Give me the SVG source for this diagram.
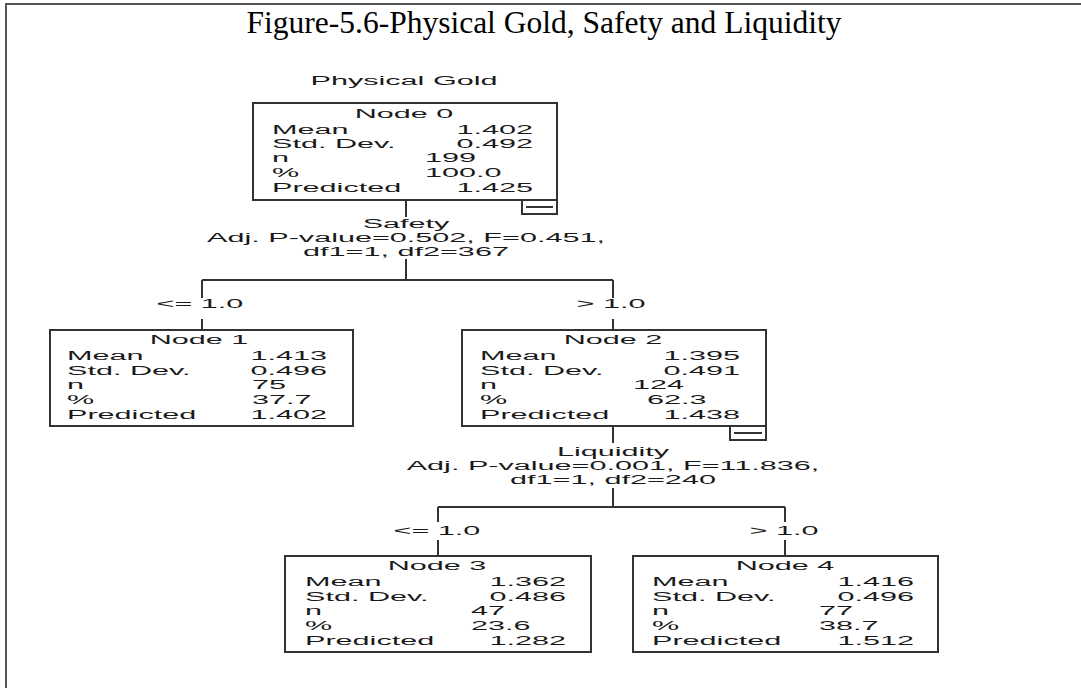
<svg xmlns="http://www.w3.org/2000/svg" width="1081" height="688" viewBox="0 0 1081 688">
<style>
.frame{fill:none;stroke:#555;stroke-width:2}
.box{fill:#fff;stroke:#333;stroke-width:2}
.ln{fill:none;stroke:#333;stroke-width:2}
.t{font-family:"Liberation Sans",Arial,sans-serif;font-size:12px;fill:#1a1a1a}
.m{text-anchor:middle}
.e{text-anchor:end}
.title{font-family:"Liberation Serif","Times New Roman",serif;font-size:31.5px;fill:#000;text-anchor:middle}
</style>
<rect width="1081" height="688" fill="#fff"/>
<path class="frame" d="M6,688 V4 H1081"/>
<text class="title" x="544" y="33">Figure-5.6-Physical Gold, Safety and Liquidity</text>
<text class="t m" transform="translate(404,85) scale(2.55,1)">Physical Gold</text>

<g id="connectors">
<path class="ln" d="M406,200 V217 M406,259 V280 M202,280 H613 M202,280 V298 M202,319 V330 M613,280 V298 M613,319 V330 M613,426 V443 M613,488 V507 M438,507 H785 M438,507 V522 M438,540 V556 M785,507 V522 M785,540 V556"/>
<text class="t m" transform="translate(406,228) scale(2.55,1)">Safety</text>
<text class="t m" transform="translate(406,242) scale(2.55,1)">Adj. P-value=0.502, F=0.451,</text>
<text class="t m" transform="translate(406,256) scale(2.55,1)">df1=1, df2=367</text>
<text class="t m" transform="translate(200,308) scale(2.55,1)">&lt;= 1.0</text>
<text class="t m" transform="translate(611,308) scale(2.55,1)">&gt; 1.0</text>
<text class="t m" transform="translate(613,456) scale(2.55,1)">Liquidity</text>
<text class="t m" transform="translate(613,470) scale(2.55,1)">Adj. P-value=0.001, F=11.836,</text>
<text class="t m" transform="translate(613,484) scale(2.55,1)">df1=1, df2=240</text>
<text class="t m" transform="translate(437,535) scale(2.55,1)">&lt;= 1.0</text>
<text class="t m" transform="translate(784,535) scale(2.55,1)">&gt; 1.0</text>
</g>

<g id="node0">
<rect class="box" x="253" y="103" width="304" height="97"/>
<rect class="box" x="522" y="200" width="35" height="14"/>
<path class="ln" d="M526,207 H553"/>
<text class="t m" transform="translate(404,118) scale(2.55,1)">Node 0</text>
<text class="t" transform="translate(272,134) scale(2.55,1)">Mean</text>
<text class="t e" transform="translate(533,134) scale(2.55,1)">1.402</text>
<text class="t" transform="translate(272,148) scale(2.55,1)">Std. Dev.</text>
<text class="t e" transform="translate(533,148) scale(2.55,1)">0.492</text>
<text class="t" transform="translate(272,162) scale(2.55,1)">n</text>
<text class="t" transform="translate(425,162) scale(2.55,1)">199</text>
<text class="t" transform="translate(272,177) scale(2.55,1)">%</text>
<text class="t" transform="translate(425,177) scale(2.55,1)">100.0</text>
<text class="t" transform="translate(272,192) scale(2.55,1)">Predicted</text>
<text class="t e" transform="translate(533,192) scale(2.55,1)">1.425</text>
</g>

<g id="node1">
<rect class="box" x="50" y="330" width="303" height="96"/>
<text class="t m" transform="translate(199,344) scale(2.55,1)">Node 1</text>
<text class="t" transform="translate(67,360) scale(2.55,1)">Mean</text>
<text class="t e" transform="translate(327,360) scale(2.55,1)">1.413</text>
<text class="t" transform="translate(67,375) scale(2.55,1)">Std. Dev.</text>
<text class="t e" transform="translate(327,375) scale(2.55,1)">0.496</text>
<text class="t" transform="translate(67,389) scale(2.55,1)">n</text>
<text class="t" transform="translate(252,389) scale(2.55,1)">75</text>
<text class="t" transform="translate(67,404) scale(2.55,1)">%</text>
<text class="t" transform="translate(252,404) scale(2.55,1)">37.7</text>
<text class="t" transform="translate(67,419) scale(2.55,1)">Predicted</text>
<text class="t e" transform="translate(327,419) scale(2.55,1)">1.402</text>
</g>

<g id="node2">
<rect class="box" x="462" y="330" width="304" height="96"/>
<rect class="box" x="730" y="426" width="36" height="14"/>
<path class="ln" d="M734,433 H762"/>
<text class="t m" transform="translate(613,344) scale(2.55,1)">Node 2</text>
<text class="t" transform="translate(480,360) scale(2.55,1)">Mean</text>
<text class="t e" transform="translate(740,360) scale(2.55,1)">1.395</text>
<text class="t" transform="translate(480,375) scale(2.55,1)">Std. Dev.</text>
<text class="t e" transform="translate(740,375) scale(2.55,1)">0.491</text>
<text class="t" transform="translate(480,389) scale(2.55,1)">n</text>
<text class="t" transform="translate(633,389) scale(2.55,1)">124</text>
<text class="t" transform="translate(480,404) scale(2.55,1)">%</text>
<text class="t" transform="translate(647,404) scale(2.55,1)">62.3</text>
<text class="t" transform="translate(480,419) scale(2.55,1)">Predicted</text>
<text class="t e" transform="translate(740,419) scale(2.55,1)">1.438</text>
</g>

<g id="node3">
<rect class="box" x="285" y="556" width="306" height="96"/>
<text class="t m" transform="translate(437,570) scale(2.55,1)">Node 3</text>
<text class="t" transform="translate(305,586) scale(2.55,1)">Mean</text>
<text class="t e" transform="translate(566,586) scale(2.55,1)">1.362</text>
<text class="t" transform="translate(305,601) scale(2.55,1)">Std. Dev.</text>
<text class="t e" transform="translate(566,601) scale(2.55,1)">0.486</text>
<text class="t" transform="translate(305,615) scale(2.55,1)">n</text>
<text class="t" transform="translate(471,615) scale(2.55,1)">47</text>
<text class="t" transform="translate(305,630) scale(2.55,1)">%</text>
<text class="t" transform="translate(471,630) scale(2.55,1)">23.6</text>
<text class="t" transform="translate(305,645) scale(2.55,1)">Predicted</text>
<text class="t e" transform="translate(566,645) scale(2.55,1)">1.282</text>
</g>

<g id="node4">
<rect class="box" x="633" y="556" width="305" height="96"/>
<text class="t m" transform="translate(785,570) scale(2.55,1)">Node 4</text>
<text class="t" transform="translate(652,586) scale(2.55,1)">Mean</text>
<text class="t e" transform="translate(914,586) scale(2.55,1)">1.416</text>
<text class="t" transform="translate(652,601) scale(2.55,1)">Std. Dev.</text>
<text class="t e" transform="translate(914,601) scale(2.55,1)">0.496</text>
<text class="t" transform="translate(652,615) scale(2.55,1)">n</text>
<text class="t" transform="translate(819,615) scale(2.55,1)">77</text>
<text class="t" transform="translate(652,630) scale(2.55,1)">%</text>
<text class="t" transform="translate(819,630) scale(2.55,1)">38.7</text>
<text class="t" transform="translate(652,645) scale(2.55,1)">Predicted</text>
<text class="t e" transform="translate(914,645) scale(2.55,1)">1.512</text>
</g>
</svg>
